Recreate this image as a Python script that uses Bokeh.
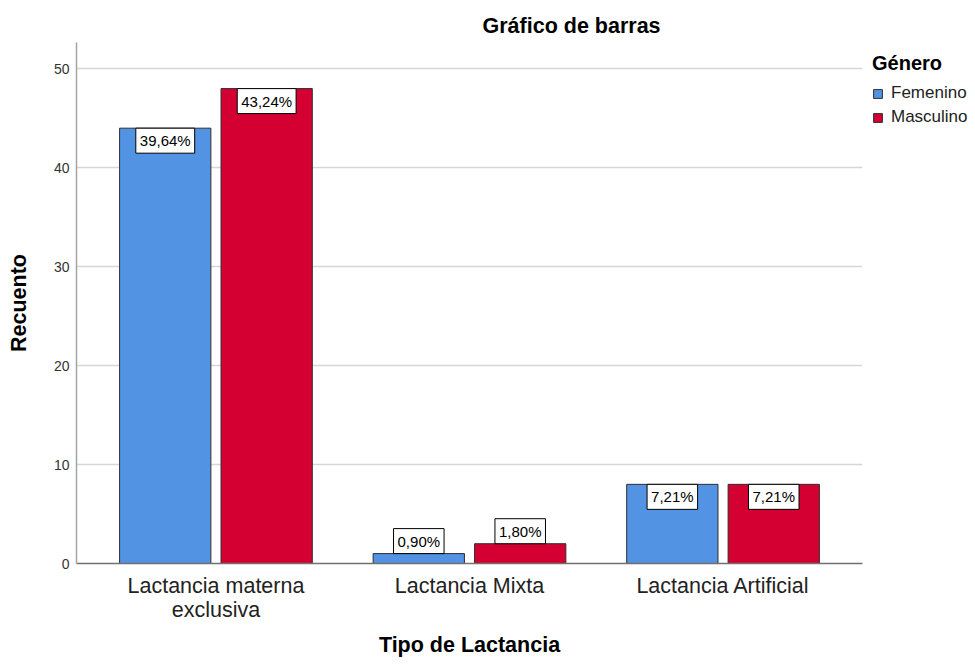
from bokeh.plotting import figure
from bokeh.models import (ColumnDataSource, FactorRange, Range1d, Legend, LegendItem,
                          FixedTicker)
from bokeh.transform import dodge
from bokeh.embed import file_html
from bokeh.resources import INLINE

# ---- data ----
categories = ["Lactancia materna\nexclusiva", "Lactancia Mixta", "Lactancia Artificial"]
genders = ["Femenino", "Masculino"]
femenino = [44, 1, 8]
masculino = [48, 2, 8]
femenino_pct = ["39,64%", "0,90%", "7,21%"]
masculino_pct = ["43,24%", "1,80%", "7,21%"]
y_ticks = [0, 10, 20, 30, 40, 50]

FONT = "Liberation Sans"
BLUE = "#5393E3"
RED = "#D50032"
EDGE = "#2E2E2E"

src = ColumnDataSource(dict(cat=categories, fem=femenino, masc=masculino))

p = figure(x_range=FactorRange(*categories, range_padding=0.1 / 3),
           y_range=Range1d(0, 52.66),
           frame_width=786, frame_height=521, output_backend="svg", toolbar_location=None,
           min_border_left=76, min_border_right=97, min_border_top=42, min_border_bottom=85)

p.outline_line_color = None
p.background_fill_color = "white"
p.border_fill_color = "white"

# title
p.title.text = "Gráfico de barras"
p.title.align = "left"
p.title.offset = 406
p.title.text_font = FONT
p.title.text_font_size = "21.5px"
p.title.text_font_style = "bold"
p.title.text_color = "#000000"
p.title.standoff = 9

# grid
p.xgrid.grid_line_color = None
p.ygrid.grid_line_color = "#D6D6D6"
p.ygrid.grid_line_width = 1.5

# y axis
p.yaxis.ticker = FixedTicker(ticks=y_ticks)
p.yaxis.axis_label = "Recuento"
p.yaxis.axis_label_text_font = FONT
p.yaxis.axis_label_text_font_size = "21.5px"
p.yaxis.axis_label_text_font_style = "bold"
p.yaxis.axis_label_text_color = "#000000"
p.yaxis.axis_label_standoff = 20
p.yaxis.major_label_text_font = FONT
p.yaxis.major_label_text_font_size = "14px"
p.yaxis.major_label_text_color = "#333333"
p.yaxis.major_label_standoff = 7
p.yaxis.major_tick_out = 0
p.yaxis.major_tick_in = 0
p.yaxis.minor_tick_out = 0
p.yaxis.minor_tick_in = 0
p.yaxis.axis_line_color = "#A3A3A3"
p.yaxis.axis_line_width = 1.5

# x axis
p.xaxis.axis_label = "Tipo de Lactancia"
p.xaxis.axis_label_text_font = FONT
p.xaxis.axis_label_text_font_size = "21.5px"
p.xaxis.axis_label_text_font_style = "bold"
p.xaxis.axis_label_text_color = "#000000"
p.xaxis.axis_label_standoff = 8
p.xaxis.major_label_text_font = FONT
p.xaxis.major_label_text_font_size = "21.5px"
p.xaxis.major_label_text_color = "#222222"
p.xaxis.major_label_text_line_height = 1.0
p.xaxis.major_label_standoff = 10
p.xaxis.major_tick_out = 0
p.xaxis.major_tick_in = 0
p.xaxis.axis_line_color = "#707070"
p.xaxis.axis_line_width = 1.5

# bars
r_f = p.vbar(x=dodge("cat", -0.2, range=p.x_range), top="fem", width=0.36, source=src,
             fill_color=BLUE, line_color=EDGE, line_width=1)
r_m = p.vbar(x=dodge("cat", 0.2, range=p.x_range), top="masc", width=0.36, source=src,
             fill_color=RED, line_color=EDGE, line_width=1)

# value labels: inside the bar top when the bar is tall enough, else just above it
for vals, labels, off in [(femenino, femenino_pct, -0.2), (masculino, masculino_pct, 0.2)]:
    for inside, anchor in [(True, "top_center"), (False, "bottom_center")]:
        idx = [i for i, v in enumerate(vals) if (v >= 5) == inside]
        if not idx:
            continue
        s = ColumnDataSource(dict(cat=[categories[i] for i in idx],
                                  y=[vals[i] for i in idx],
                                  text=[labels[i] for i in idx]))
        p.text(x=dodge("cat", off, range=p.x_range), y="y", text="text", anchor=anchor,
               source=s, text_font_size="15px", text_color="#000000",
               text_font={"value": FONT},
               background_fill_color="white", border_line_color="#000000",
               border_line_width=1, padding=4)

# legend
legend = Legend(items=[LegendItem(label=genders[0], renderers=[r_f]),
                       LegendItem(label=genders[1], renderers=[r_m])],
                title="Género", title_text_font=FONT, title_text_font_size="20px",
                title_text_font_style="bold", title_text_color="#000000",
                title_standoff=8,
                location=(10, 436), orientation="vertical", padding=0, margin=0,
                spacing=4, glyph_width=11, glyph_height=11, label_standoff=8,
                label_height=18, label_text_font=FONT, label_text_font_size="17px",
                label_text_color="#222222", border_line_color=None,
                background_fill_alpha=0)
p.add_layout(legend, "right")

open("out.html", "w").write(file_html(p, INLINE))
